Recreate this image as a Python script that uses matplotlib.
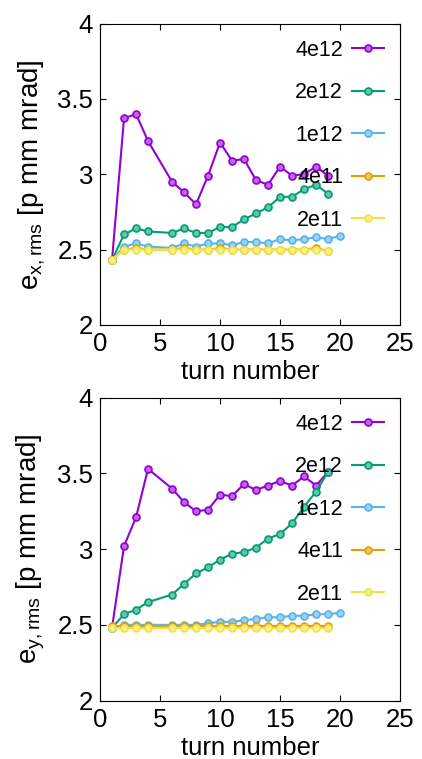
import numpy as np
import matplotlib
matplotlib.use("Agg")
import matplotlib.pyplot as plt
from matplotlib.colors import to_rgb

plt.rcParams['font.family'] = ['Liberation Sans', 'DejaVu Sans']
plt.rcParams['mathtext.fontset'] = 'custom'
plt.rcParams['mathtext.rm'] = 'Liberation Sans'
plt.rcParams['mathtext.it'] = 'Liberation Sans'
plt.rcParams['mathtext.default'] = 'regular'

labels = ['4e12', '2e12', '1e12', '4e11', '2e11']
colors = ['#9400D3', '#009E73', '#56B4E9', '#E69F00', '#F0E442']

turns = [1, 2, 3, 4, 6, 7, 8, 9, 10, 11, 12, 13, 14, 15, 16, 17, 18, 19]
turns_1e12 = turns + [20]

# horizontal emittance
ex_4e12 = [2.43, 3.37, 3.40, 3.22, 2.95, 2.88, 2.80, 2.99, 3.21, 3.09, 3.10, 2.96, 2.93, 3.05, 2.99, 3.00, 3.05, 2.99]
ex_2e12 = [2.43, 2.60, 2.64, 2.62, 2.61, 2.64, 2.61, 2.61, 2.65, 2.65, 2.70, 2.74, 2.78, 2.85, 2.85, 2.90, 2.93, 2.87]
ex_1e12 = [2.43, 2.52, 2.54, 2.52, 2.51, 2.54, 2.52, 2.54, 2.54, 2.53, 2.55, 2.55, 2.54, 2.57, 2.56, 2.57, 2.58, 2.57, 2.59]
ex_4e11 = [2.43, 2.50, 2.51, 2.50, 2.50, 2.51, 2.50, 2.50, 2.51, 2.50, 2.50, 2.50, 2.50, 2.50, 2.50, 2.50, 2.51, 2.49]
ex_2e11 = [2.43, 2.50, 2.50, 2.50, 2.50, 2.50, 2.50, 2.50, 2.50, 2.50, 2.50, 2.50, 2.50, 2.50, 2.50, 2.50, 2.50, 2.49]

# vertical emittance
ey_4e12 = [2.48, 3.02, 3.21, 3.53, 3.40, 3.31, 3.25, 3.26, 3.36, 3.35, 3.43, 3.39, 3.42, 3.45, 3.42, 3.48, 3.42, 3.51]
ey_2e12 = [2.48, 2.57, 2.60, 2.65, 2.70, 2.77, 2.84, 2.88, 2.93, 2.97, 2.98, 3.01, 3.07, 3.10, 3.17, 3.28, 3.38, 3.51]
ey_1e12 = [2.48, 2.50, 2.50, 2.50, 2.50, 2.50, 2.50, 2.51, 2.52, 2.52, 2.53, 2.54, 2.55, 2.55, 2.56, 2.56, 2.57, 2.57, 2.58]
ey_4e11 = [2.49, 2.49, 2.49, 2.49, 2.49, 2.49, 2.49, 2.49, 2.49, 2.49, 2.49, 2.49, 2.49, 2.49, 2.49, 2.49, 2.49, 2.49]
ey_2e11 = [2.48, 2.48, 2.48, 2.48, 2.48, 2.48, 2.48, 2.48, 2.48, 2.48, 2.48, 2.48, 2.48, 2.48, 2.48, 2.48, 2.48, 2.48]

ex_all = [ex_4e12, ex_2e12, ex_1e12, ex_4e11, ex_2e11]
ey_all = [ey_4e12, ey_2e12, ey_1e12, ey_4e11, ey_2e11]

fig = plt.figure(figsize=(4.22, 7.59), dpi=100)
ax1 = fig.add_axes([0.237, 0.572, 0.711, 0.397])
ax2 = fig.add_axes([0.237, 0.077, 0.711, 0.399])


def lighter(c, f=0.4):
    r, g, b = to_rgb(c)
    return (r + (1 - r) * f, g + (1 - g) * f, b + (1 - b) * f)


def draw(ax, data, ylab):
    for lab, col, vals in zip(labels, colors, data):
        xs = turns_1e12 if len(vals) == len(turns_1e12) else turns
        ax.plot(xs, vals, '-o', color=col, lw=1.5, ms=5, label=lab,
                mfc=lighter(col), mec=col, markeredgewidth=1.2)
    ax.set_xlim(0, 25)
    ax.set_ylim(2, 4)
    ax.set_xticks([0, 5, 10, 15, 20, 25])
    ax.set_yticks([2, 2.5, 3, 3.5, 4])
    ax.set_yticklabels(['2', '2.5', '3', '3.5', '4'])
    ax.tick_params(direction='in', top=True, right=True, labelsize=18.5,
                   length=4, width=0.8, pad=5)
    ax.set_xlabel('turn number', fontsize=18.5, labelpad=3)
    ax.set_ylabel(ylab, fontsize=20, labelpad=7)
    leg = ax.legend(loc='upper right', frameon=False, markerfirst=False,
                    fontsize=15.5, handlelength=1.5, labelspacing=1.0,
                    borderaxespad=0.45, borderpad=0.3, handletextpad=0.4)
    for t in leg.get_texts():
        t.set_ha('right')


draw(ax1, ex_all, r'$e_{x,rms}$ [p mm mrad]')
draw(ax2, ey_all, r'$e_{y,rms}$ [p mm mrad]')

fig.savefig('out.png', dpi=100)
